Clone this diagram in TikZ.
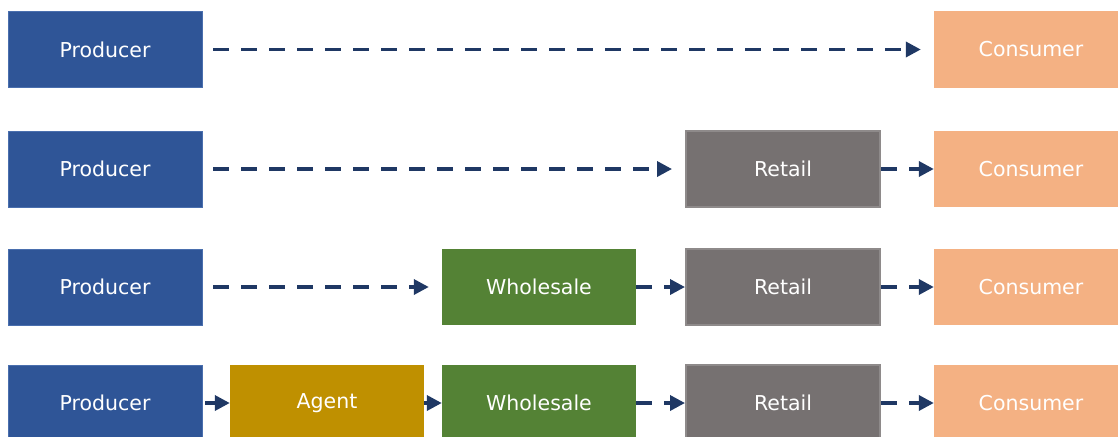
\documentclass[tikz,border=0pt]{standalone}
\usepackage{fontspec}
\setmainfont{DejaVu Sans}
\usetikzlibrary{arrows.meta}

\definecolor{prodblue}{HTML}{2F5597}
\definecolor{prodedge}{HTML}{4A6FAE}
\definecolor{consorange}{HTML}{F4B183}
\definecolor{retailgrey}{HTML}{767171}
\definecolor{retailedge}{HTML}{8E8A8A}
\definecolor{wholegreen}{HTML}{548235}
\definecolor{agentgold}{HTML}{BF9000}
\definecolor{arrownavy}{HTML}{1F3864}

\begin{document}
\begin{tikzpicture}[x=1pt, y=-1pt,
  box/.style={minimum width=194pt, minimum height=76pt, inner sep=0pt, text=white,
    font=\fontsize{20.5}{24}\selectfont},
  producer/.style={box, fill=prodblue, draw=prodedge, line width=0.8pt},
  consumer/.style={box, fill=consorange},
  retail/.style={box, fill=retailgrey, draw=retailedge, line width=2pt},
  wholesale/.style={box, fill=wholegreen},
  agent/.style={box, fill=agentgold},
  flow/.style={-{Triangle[length=15pt, width=15pt]}, line width=3.5pt, draw=arrownavy,
    dash pattern=on 16pt off 12pt},
  feed/.style={-{Triangle[length=15pt, width=15pt]}, line width=3.5pt, draw=arrownavy}]
\clip (0,0) rectangle (1118,436);
% Row 1
\node[producer] (p1) at (105,49.5) {Producer};
\node[consumer] (c1) at (1031,49.5) {Consumer};
% Row 2
\node[producer] (p2) at (105,169) {Producer};
\node[retail] (r2) at (783,169) {Retail};
\node[consumer] (c2) at (1031,169) {Consumer};
% Row 3
\node[producer] (p3) at (105,287) {Producer};
\node[wholesale] (w3) at (539,287) {Wholesale};
\node[retail] (r3) at (783,287) {Retail};
\node[consumer] (c3) at (1031,287) {Consumer};
% Row 4
\node[producer] (p4) at (105,403) {Producer};
\node[agent] (a4) at (327,403) {Agent};
\node[wholesale] (w4) at (539,403) {Wholesale};
\node[retail] (r4) at (783,403) {Retail};
\node[consumer] (c4) at (1031,403) {Consumer};
% Arrows
\draw[flow, shorten <=11pt, shorten >=13pt] (p1) -- (c1);
\draw[flow, shorten <=11pt, shorten >=13pt] (p2) -- (r2);
\draw[flow] (r2) -- (c2);
\draw[flow, shorten <=11pt, shorten >=13pt] (p3) -- (w3);
\draw[flow] (w3) -- (r3);
\draw[flow] (r3) -- (c3);
\draw[feed, shorten <=3pt] (p4) -- (a4);
\draw[feed] (a4) -- (w4);
\draw[flow] (w4) -- (r4);
\draw[flow] (r4) -- (c4);
\end{tikzpicture}
\end{document}
